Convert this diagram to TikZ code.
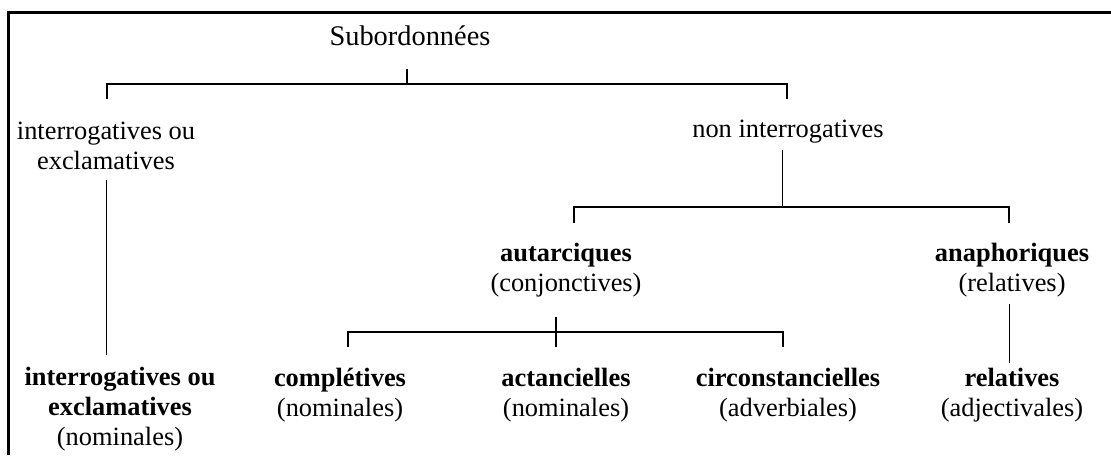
\documentclass[tikz,border=0pt]{standalone}
\usepackage{fontspec}
\setmainfont{Liberation Serif}

\tikzset{
	label/.style = {align=center, inner sep=0pt, font=\fontsize{13.2}{15}\selectfont},
	bracket/.style = {line width=1pt},
	stem/.style = {line width=0.5pt}
}

\begin{document}
\begin{tikzpicture}[x=0.5pt, y=-0.5pt]
					\useasboundingbox (0,0) rectangle (1111,455);

					% The frame, open at the right and at the bottom
						\draw [line width=1.5pt] (8,455) -- (8,12) -- (1111,12);

					% First level
						\node [label, font=\fontsize{14.2}{16}\selectfont] (sub) at (410,36) {Subordonnées};
						\node [label] (interro) at (106,146) {interrogatives ou\\exclamatives};
						\node [label] (nonint) at (788,132) {non interrogatives};

					% Second level
						\node [label] (autarc) at (566,270) {\textbf{autarciques}\\(conjonctives)};
						\node [label] (anaph) at (1012,270) {\textbf{anaphoriques}\\(relatives)};

					% Bottom row
						\node [label] (bint) at (120,409) {\textbf{interrogatives ou}\\\textbf{exclamatives}\\(nominales)};
						\foreach \name/\x/\lab/\sub in {
							compl/340/complétives/nominales,
							act/566/actancielles/nominales,
							circ/788/circonstancielles/adverbiales,
							rel/1012/relatives/adjectivales} {
								\node [label] (\name) at (\x,395) {\textbf{\lab}\\(\sub)};
								}

					% Junction points of the brackets
						\coordinate (j1) at (407,84);
						\coordinate (j2) at (782,207);
						\coordinate (j3) at (556,332);

					% Brackets
						\draw [bracket] (107,99) |- (787,84) -- (787,99);
						\draw [bracket] (j1) -- (407,69);
						\draw [bracket] (574,223) |- (1009,207) -- (1009,223);
						\draw [bracket] (348,347) |- (783,332) -- (783,347);
						\draw [bracket] (556,317) -- (556,347);

					% Single stems
						\draw [stem] (interro.south |- 0,180) -- (interro.south |- 0,355);
						\draw [stem] (nonint.south -| j2) ++(0,6) -- (j2);
						\draw [stem] (1009,304) -- (1009,363);

					\end{tikzpicture}
\end{document}
